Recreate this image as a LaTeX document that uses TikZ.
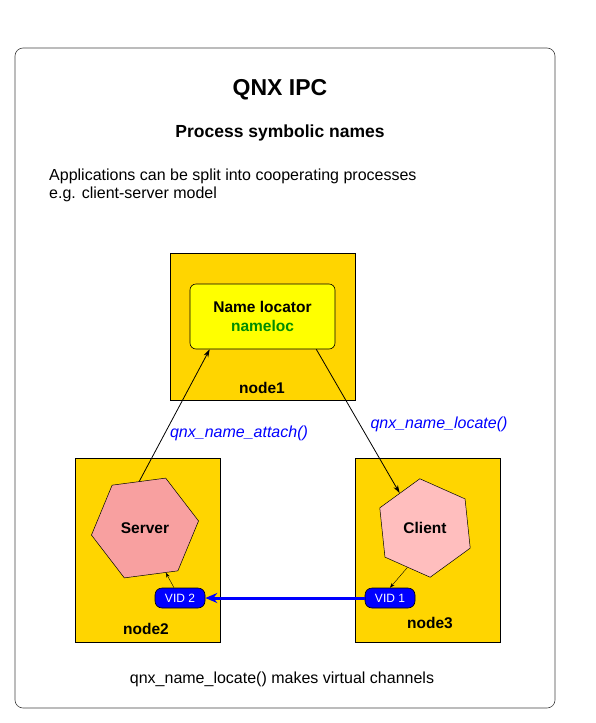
\documentclass[tikz,border=0pt]{standalone}
\usepackage{fontspec}
\setmainfont{Liberation Sans}
\usetikzlibrary{shapes.geometric,arrows.meta,calc}
\definecolor{gold}{RGB}{255,213,0}
\definecolor{locyellow}{RGB}{255,255,0}
\definecolor{locgreen}{RGB}{0,140,0}
\definecolor{srvpink}{RGB}{248,160,160}
\definecolor{clipink}{RGB}{255,190,190}
\definecolor{vidblue}{RGB}{0,0,255}
\tikzset{
  txt/.style={font=\fontsize{16}{19}\selectfont, inner sep=0pt},
  btxt/.style={font=\fontsize{15.5}{19}\selectfont\bfseries, inner sep=0pt},
  calltxt/.style={font=\fontsize{16}{19}\selectfont\itshape, text=vidblue, inner sep=0pt},
  hostbox/.style={draw=black, fill=gold, line width=0.6pt},
  hexa/.style={regular polygon, regular polygon sides=6, draw=black, line width=0.5pt, inner sep=0pt, font=\fontsize{15.5}{18}\selectfont\bfseries},
  vidbox/.style={draw=black, fill=vidblue, text=white, rounded corners=7pt, minimum width=50pt, minimum height=20pt, inner sep=0pt, font=\fontsize{12}{14}\selectfont, line width=0.6pt},
  bigarr/.style={-{Stealth[length=8pt,width=5pt]}, line width=0.8pt},
  smallarr/.style={-{Stealth[length=5pt,width=3.5pt]}, line width=0.4pt},
}
\begin{document}
\begin{tikzpicture}[x=1pt,y=-1pt]
\useasboundingbox (0,0) rectangle (595,723);
\draw[rounded corners=8pt, draw=black!75, line width=0.6pt] (15,48) rectangle (555,708);

\node[font=\fontsize{23}{26}\selectfont\bfseries, inner sep=0pt] (title) at (280,90) {QNX IPC};
\node[font=\fontsize{17.5}{20}\selectfont\bfseries, inner sep=0pt] (sub) at (280,133) {Process symbolic names};
\node[txt, anchor=base west] (l1) at (49,180) {Applications can be split into cooperating processes};
\node[txt, anchor=base west] (l2) at (49,198) {e.g. client-server model};

% hosts
\node[hostbox, minimum width=185pt, minimum height=147pt, inner sep=0pt] (host1) at (262.5,326.5) {};
\node[hostbox, minimum width=145pt, minimum height=184pt, inner sep=0pt] (host2) at (147.5,550) {};
\node[hostbox, minimum width=145pt, minimum height=184pt, inner sep=0pt] (host3) at (427.5,550) {};

\node[draw=black, fill=locyellow, rounded corners=6pt, minimum width=145pt, minimum height=65pt, inner sep=0pt, align=center, font=\fontsize{15.5}{19}\selectfont\bfseries, line width=0.6pt] (nameloc) at (262.5,316.5) {Name locator\\\textcolor{locgreen}{nameloc}};

\node[btxt] (n1) at (262,388) {node1};
\node[btxt] (n2) at (146,629) {node2};
\node[btxt] (n3) at (430,623) {node3};

\node[hexa, fill=srvpink, minimum size=108pt, shape border rotate=7.5] (server) at (145,528) {Server};
\node[hexa, fill=clipink, minimum size=99pt, shape border rotate=36] (client) at (425,528) {Client};

\node[vidbox] (vid2) at (180,598) {VID 2};
\node[vidbox] (vid1) at (390,598) {VID 1};

\draw[bigarr] (server.97.5) -- ($(nameloc.south west)+(20,0)$);
\draw[bigarr] ($(nameloc.south east)+(-19,0)$) -- (client.126);
\draw[smallarr] (client.246) -- (vid1.north);
\draw[smallarr] ($(vid2.north)+(-6,0)$) -- (server.295);
\draw[-{Stealth[length=12pt,width=10pt]}, draw=vidblue, line width=3pt] (vid1.west) -- (vid2.east);

\node[calltxt] (attach) at (239,433) {qnx\_name\_attach()};
\node[calltxt] (locate) at (439,424) {qnx\_name\_locate()};

\node[txt] (foot) at (282,679) {qnx\_name\_locate() makes virtual channels};
\end{tikzpicture}
\end{document}
